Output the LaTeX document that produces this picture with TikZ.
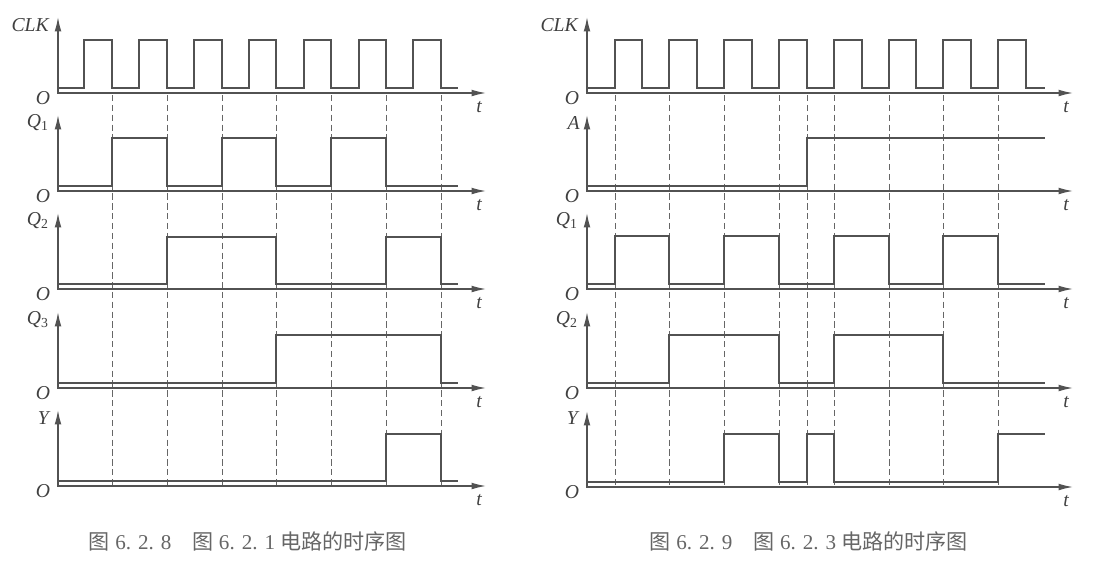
\documentclass[tikz,border=0pt]{standalone}
\usepackage{fontspec}
\setmainfont{Liberation Serif}
\newfontfamily\cjk{Noto Sans CJK SC}
\usetikzlibrary{arrows.meta}

\begin{document}
\begin{tikzpicture}[x=0.025cm,y=-0.025cm,
	axis/.style={draw=black!68, line width=1pt, {Latex[length=3.6mm,width=1.7mm]}-{Latex[length=3.6mm,width=1.7mm]}},
	wave/.style={draw=black!68, line width=1.8pt},
	guide/.style={draw=black!60, line width=0.55pt, dash pattern=on 4.5pt off 2.5pt},
	lab/.style={text=black!75, font=\fontsize{14}{16}\selectfont\itshape, inner sep=0pt},
	capt/.style={text=black!60, font=\fontsize{15}{17}\selectfont}]
	\useasboundingbox (0,0) rectangle (1094,562);
	
	% left figure
	\draw[guide] (112,95) -- (112,486) (167,95) -- (167,486) (222,95) -- (222,486) (276,95) -- (276,486)
	             (331,95) -- (331,486) (386,95) -- (386,486) (441,95) -- (441,486);
	
	\draw[axis] (58,17) -- (58,93) -- (486,93);
	\draw[axis] (58,115) -- (58,191) -- (486,191);
	\draw[axis] (58,213) -- (58,289) -- (486,289);
	\draw[axis] (58,312) -- (58,388) -- (486,388);
	\draw[axis] (58,410) -- (58,486) -- (486,486);
	
	\draw[wave] (58,88) -| (84,40) -| (112,88) -| (139,40) -| (167,88) -| (194,40) -| (222,88) -| (249,40)
	            -| (276,88) -| (304,40) -| (331,88) -| (359,40) -| (386,88) -| (413,40) -| (441,88) -- (458,88);
	\draw[wave] (58,186) -| (112,138) -| (167,186) -| (222,138) -| (276,186) -| (331,138) -| (386,186) -- (458,186);
	\draw[wave] (58,284) -| (167,237) -| (276,284) -| (386,237) -| (441,284) -- (458,284);
	\draw[wave] (58,383) -| (276,335) -| (441,383) -- (458,383);
	\draw[wave] (58,481) -| (386,434) -| (441,481) -- (458,481);
	
	\node[lab, anchor=east] (clkL) at (49,25) {CLK};
	\node[lab, anchor=east] (q1L) at (49,123) {Q\textsubscript{\upshape 1}};
	\node[lab, anchor=east] (q2L) at (49,221) {Q\textsubscript{\upshape 2}};
	\node[lab, anchor=east] (q3L) at (49,320) {Q\textsubscript{\upshape 3}};
	\node[lab, anchor=east] (yL) at (49,418) {Y};
	
	\node[lab] (o1L) at (43,98) {O};
	\node[lab] (o2L) at (43,196) {O};
	\node[lab] (o3L) at (43,294) {O};
	\node[lab] (o4L) at (43,393) {O};
	\node[lab] (o5L) at (43,491) {O};
	
	\node[lab] (t1L) at (479,107) {t};
	\node[lab] (t2L) at (479,205) {t};
	\node[lab] (t3L) at (479,303) {t};
	\node[lab] (t4L) at (479,402) {t};
	\node[lab] (t5L) at (479,500) {t};
	
	\node[capt] (captL) at (248,541) {{\cjk 图} 6. 2. 8\quad{\cjk 图} 6. 2. 1 {\cjk 电路的时序图}};
	
	% right figure
	\draw[guide] (615,95) -- (615,487) (669,95) -- (669,487) (724,95) -- (724,487) (779,95) -- (779,487)
	             (807,95) -- (807,487) (834,95) -- (834,487) (889,95) -- (889,487) (943,95) -- (943,487)
	             (998,95) -- (998,487);
	
	\draw[axis] (587,17) -- (587,93) -- (1073,93);
	\draw[axis] (587,115) -- (587,191) -- (1073,191);
	\draw[axis] (587,213) -- (587,289) -- (1073,289);
	\draw[axis] (587,312) -- (587,388) -- (1073,388);
	\draw[axis] (587,411) -- (587,487) -- (1073,487);
	
	\draw[wave] (587,88) -| (615,40) -| (642,88) -| (669,40) -| (697,88) -| (724,40) -| (752,88) -| (779,40)
	            -| (807,88) -| (834,40) -| (862,88) -| (889,40) -| (916,88) -| (943,40) -| (971,88) -| (998,40)
	            -| (1026,88) -- (1045,88);
	\draw[wave] (587,186) -| (807,138) -- (1045,138);
	\draw[wave] (587,284) -| (615,236) -| (669,284) -| (724,236) -| (779,284) -| (834,236) -| (889,284)
	            -| (943,236) -| (998,284) -- (1045,284);
	\draw[wave] (587,383) -| (669,335) -| (779,383) -| (834,335) -| (943,383) -- (1045,383);
	\draw[wave] (587,482) -| (724,434) -| (779,482) -| (807,434) -| (834,482) -| (998,434) -- (1045,434);
	
	\node[lab, anchor=east] (clkR) at (578,25) {CLK};
	\node[lab, anchor=east] (aR) at (580,123) {A};
	\node[lab, anchor=east] (q1R) at (578,221) {Q\textsubscript{\upshape 1}};
	\node[lab, anchor=east] (q2R) at (578,320) {Q\textsubscript{\upshape 2}};
	\node[lab, anchor=east] (yR) at (578,418) {Y};
	
	\node[lab] (o1R) at (572,98) {O};
	\node[lab] (o2R) at (572,196) {O};
	\node[lab] (o3R) at (572,294) {O};
	\node[lab] (o4R) at (572,393) {O};
	\node[lab] (o5R) at (572,492) {O};
	
	\node[lab] (t1R) at (1066,107) {t};
	\node[lab] (t2R) at (1066,205) {t};
	\node[lab] (t3R) at (1066,303) {t};
	\node[lab] (t4R) at (1066,402) {t};
	\node[lab] (t5R) at (1066,501) {t};
	
	\node[capt] (captR) at (809,541) {{\cjk 图} 6. 2. 9\quad{\cjk 图} 6. 2. 3 {\cjk 电路的时序图}};
\end{tikzpicture}
\end{document}
